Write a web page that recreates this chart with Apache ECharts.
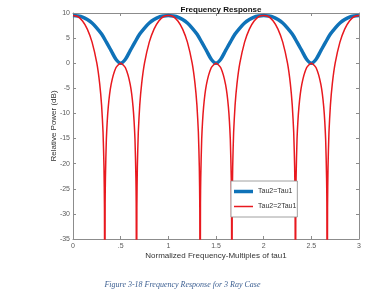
<!DOCTYPE html>
<html>
<head>
<meta charset="utf-8">
<script src="https://cdn.jsdelivr.net/npm/echarts@6/dist/echarts.min.js"></script>
<style>
  html, body { margin: 0; padding: 0; background: #fff; }
  #chart { width: 365px; height: 290px; }
</style>
</head>
<body>
<div id="chart"></div>
<script>
// Tau2=Tau1 (blue), sampled every 0.05
const blueFreq = [0, 0.05, 0.1, 0.15, 0.2, 0.25, 0.3, 0.35, 0.4, 0.45, 0.5, 0.55, 0.6, 0.65, 0.7, 0.75, 0.8, 0.85, 0.9, 0.95,
  1, 1.05, 1.1, 1.15, 1.2, 1.25, 1.3, 1.35, 1.4, 1.45, 1.5, 1.55, 1.6, 1.65, 1.7, 1.75, 1.8, 1.85, 1.9, 1.95,
  2, 2.05, 2.1, 2.15, 2.2, 2.25, 2.3, 2.35, 2.4, 2.45, 2.5, 2.55, 2.6, 2.65, 2.7, 2.75, 2.8, 2.85, 2.9, 2.95, 3];
const blueDb = [9.5, 9.4, 9.2, 8.7, 8.0, 7.0, 5.8, 4.2, 2.5, 0.8, 0.0, 0.8, 2.5, 4.2, 5.8, 7.0, 8.0, 8.7, 9.2, 9.4,
  9.5, 9.4, 9.2, 8.7, 8.0, 7.0, 5.8, 4.2, 2.5, 0.8, 0.0, 0.8, 2.5, 4.2, 5.8, 7.0, 8.0, 8.7, 9.2, 9.4,
  9.5, 9.4, 9.2, 8.7, 8.0, 7.0, 5.8, 4.2, 2.5, 0.8, 0.0, 0.8, 2.5, 4.2, 5.8, 7.0, 8.0, 8.7, 9.2, 9.4, 9.5];

// Tau2=2Tau1 (red), denser near the nulls
const redFreq = [
  0, 0.05, 0.1, 0.15, 0.2, 0.25, 0.28, 0.3, 0.315, 0.325, 0.33, 0.3333, 0.337, 0.34, 0.35, 0.37, 0.4, 0.45,
  0.5, 0.55, 0.6, 0.63, 0.65, 0.66, 0.663, 0.6667, 0.67, 0.675, 0.685, 0.7, 0.72, 0.75, 0.8, 0.85, 0.9, 0.95,
  1, 1.05, 1.1, 1.15, 1.2, 1.25, 1.28, 1.3, 1.315, 1.325, 1.33, 1.3333, 1.337, 1.34, 1.35, 1.37, 1.4, 1.45,
  1.5, 1.55, 1.6, 1.63, 1.65, 1.66, 1.663, 1.6667, 1.67, 1.675, 1.685, 1.7, 1.72, 1.75, 1.8, 1.85, 1.9, 1.95,
  2, 2.05, 2.1, 2.15, 2.2, 2.25, 2.28, 2.3, 2.315, 2.325, 2.33, 2.3333, 2.337, 2.34, 2.35, 2.37, 2.4, 2.45,
  2.5, 2.55, 2.6, 2.63, 2.65, 2.66, 2.663, 2.6667, 2.67, 2.675, 2.685, 2.7, 2.72, 2.75, 2.8, 2.85, 2.9, 2.95,
  3];
const redDb = [
  9.5, 9.3, 8.4, 6.8, 4.2, 0, -4.1, -8.4, -13.7, -20.7, -28.8, -60, -28, -22.9, -15.1, -8.7, -4.2, -0.9,
  0, -0.9, -4.2, -8.7, -15.1, -22.9, -28, -60, -28.8, -20.7, -13.7, -8.4, -4.1, 0, 4.2, 6.8, 8.4, 9.3,
  9.5, 9.3, 8.4, 6.8, 4.2, 0, -4.1, -8.4, -13.7, -20.7, -28.8, -60, -28, -22.9, -15.1, -8.7, -4.2, -0.9,
  0, -0.9, -4.2, -8.7, -15.1, -22.9, -28, -60, -28.8, -20.7, -13.7, -8.4, -4.1, 0, 4.2, 6.8, 8.4, 9.3,
  9.5, 9.3, 8.4, 6.8, 4.2, 0, -4.1, -8.4, -13.7, -20.7, -28.8, -60, -28, -22.9, -15.1, -8.7, -4.2, -0.9,
  0, -0.9, -4.2, -8.7, -15.1, -22.9, -28, -60, -28.8, -20.7, -13.7, -8.4, -4.1, 0, 4.2, 6.8, 8.4, 9.3,
  9.5];

const xTicks = [0, 0.5, 1, 1.5, 2, 2.5, 3];
const seriesNames = ["Tau2=Tau1", "Tau2=2Tau1"];

const blue = "#0f72b8";
const red = "#e8191f";
const axisGray = "#8c8c8c";
const labelGray = "#5a5a5a";
const font = "Liberation Sans, Arial, sans-serif";

const myChart = echarts.init(document.getElementById("chart"));

const boxAxis = {
  axisLine: { show: true, onZero: false, lineStyle: { color: axisGray, width: 1 } },
  axisTick: { show: true, inside: true, length: 3, lineStyle: { color: axisGray } },
  splitLine: { show: false }
};

const option = {
  animation: false,
  backgroundColor: "#fff",
  title: {
    text: "Frequency Response",
    left: 216,
    top: 1,
    textAlign: "center",
    textStyle: { fontSize: 8, fontWeight: "bold", color: "#111", fontFamily: font }
  },
  grid: { left: 73, right: 6, top: 13, bottom: 51, containLabel: false },
  legend: {
    orient: "vertical",
    left: 231,
    top: 181,
    data: [
      { name: seriesNames[0], icon: "path://M0,0H19V3.5H0Z" },
      { name: seriesNames[1], icon: "path://M0,0H19V1.5H0Z" }
    ],
    itemWidth: 19,
    itemHeight: 3.5,
    itemGap: 6,
    padding: [6, 1, 6, 3],
    borderColor: "#888",
    borderWidth: 0.8,
    backgroundColor: "#fff",
    textStyle: { fontSize: 7, lineHeight: 9, color: "#333", fontFamily: font }
  },
  xAxis: [
    Object.assign({
      type: "value",
      min: 0,
      max: 3,
      interval: 0.5,
      name: "Normalized Frequency-Multiples of tau1",
      nameLocation: "middle",
      nameGap: 13,
      nameMoveOverlap: false,
      nameTextStyle: { fontSize: 8, color: "#333", fontFamily: font },
      axisLabel: {
        fontSize: 7, color: labelGray, fontFamily: font, margin: 4,
        formatter: v => (xTicks.indexOf(v) >= 0 ? (v === 0.5 ? ".5" : String(v)) : "")
      }
    }, boxAxis),
    Object.assign({
      type: "value", position: "top", min: 0, max: 3, interval: 0.5,
      axisLabel: { show: false }
    }, boxAxis)
  ],
  yAxis: [
    Object.assign({
      type: "value",
      min: -35,
      max: 10,
      interval: 5,
      name: "Relative Power (dB)",
      nameLocation: "middle",
      nameGap: 15,
      nameMoveOverlap: false,
      nameTextStyle: { fontSize: 8, color: "#333", fontFamily: font },
      axisLabel: { fontSize: 7, color: labelGray, fontFamily: font, margin: 3 }
    }, boxAxis),
    Object.assign({
      type: "value", position: "right", min: -35, max: 10, interval: 5,
      axisLabel: { show: false }
    }, boxAxis)
  ],
  series: [
    {
      name: seriesNames[0],
      type: "line",
      symbol: "none",
      smooth: 0.3,
      clip: true,
      lineStyle: { color: blue, width: 3.5 },
      itemStyle: { color: blue },
      data: blueFreq.map((f, i) => [f, blueDb[i]])
    },
    {
      name: seriesNames[1],
      type: "line",
      symbol: "none",
      smooth: 0.2,
      clip: true,
      lineStyle: { color: red, width: 1.5 },
      itemStyle: { color: red },
      data: redFreq.map((f, i) => [f, redDb[i]])
    }
  ],
  graphic: [
    {
      type: "text",
      left: "center",
      top: 281,
      style: {
        text: "Figure 3-18 Frequency Response for 3 Ray Case",
        font: "italic 8px 'Liberation Serif', 'Times New Roman', serif",
        fill: "#3b5e91"
      }
    }
  ]
};

myChart.setOption(option);
</script>
</body>
</html>
